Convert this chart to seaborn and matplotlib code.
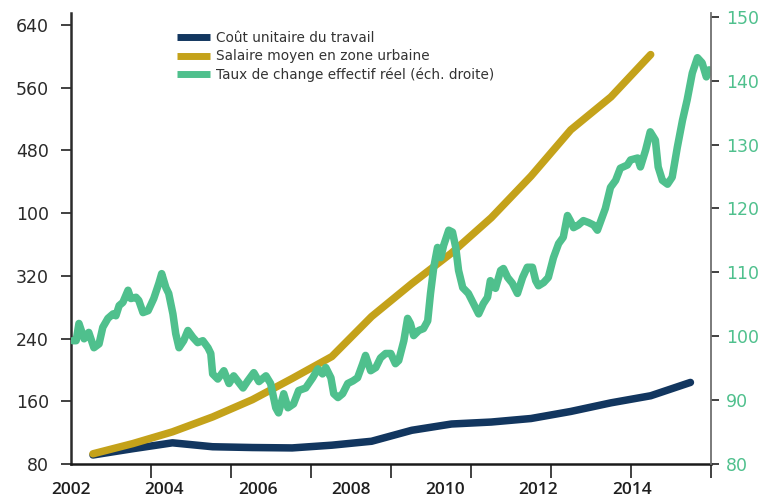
import numpy as np
import pandas as pd
import matplotlib
matplotlib.use("Agg")
import matplotlib.pyplot as plt
from matplotlib.lines import Line2D
import seaborn as sns

# ---------------- data ----------------
annual_x = [2002.47, 2003.32, 2004.17, 2005.03, 2005.88, 2006.73, 2007.58, 2008.43,
            2009.29, 2010.14, 2010.99, 2011.84, 2012.69, 2013.55, 2014.40, 2015.25]
cout_unitaire = [91.5, 99.5, 107, 102, 101, 100.5, 104, 109,
                 123, 131, 133.5, 138, 147, 158, 167, 184]
salaire_x = annual_x[:15]
salaire_moyen = [93, 106, 121, 140, 162, 189, 217, 268, 310, 349, 394, 447, 506, 548, 602]

tcer_x = [2002.04, 2002.11, 2002.17, 2002.28, 2002.38, 2002.49, 2002.60, 2002.68, 2002.79, 2002.90,
          2002.96, 2003.03, 2003.11, 2003.22, 2003.28, 2003.39, 2003.45, 2003.54, 2003.65, 2003.77,
          2003.88, 2003.94, 2004.03, 2004.09, 2004.18, 2004.24, 2004.31, 2004.41, 2004.50, 2004.61,
          2004.71, 2004.82, 2004.93, 2004.99, 2005.03, 2005.14, 2005.27, 2005.38, 2005.48, 2005.68,
          2005.78, 2005.91, 2006.02, 2006.17, 2006.27, 2006.38, 2006.44, 2006.55, 2006.64, 2006.76,
          2006.87, 2007.02, 2007.17, 2007.28, 2007.38, 2007.45, 2007.56, 2007.62, 2007.71, 2007.81,
          2007.92, 2008.03, 2008.13, 2008.24, 2008.30, 2008.41, 2008.52, 2008.62, 2008.73, 2008.84,
          2008.94, 2009.01, 2009.12, 2009.20, 2009.26, 2009.33, 2009.44, 2009.54, 2009.63, 2009.69,
          2009.76, 2009.84, 2009.91, 2009.97, 2010.08, 2010.16, 2010.23, 2010.29, 2010.38, 2010.50,
          2010.61, 2010.72, 2010.82, 2010.91, 2010.97, 2011.08, 2011.19, 2011.25, 2011.34, 2011.44,
          2011.55, 2011.66, 2011.76, 2011.87, 2011.94, 2012.00, 2012.11, 2012.21, 2012.32, 2012.43,
          2012.53, 2012.62, 2012.68, 2012.75, 2012.85, 2012.96, 2013.07, 2013.18, 2013.26, 2013.32,
          2013.43, 2013.54, 2013.65, 2013.75, 2013.90, 2013.97, 2014.12, 2014.18, 2014.29, 2014.39,
          2014.50, 2014.56, 2014.65, 2014.76, 2014.86, 2014.97, 2015.08, 2015.18, 2015.29, 2015.40,
          2015.50, 2015.59, 2015.65]
tcer = [99.3, 99.3, 102.0, 99.6, 100.6, 98.2, 98.8, 101.4, 102.8, 103.5,
        103.2, 104.8, 105.3, 107.2, 105.9, 106.1, 105.6, 103.7, 104.0, 105.9,
        108.3, 109.8, 107.6, 106.7, 103.5, 100.4, 98.2, 99.3, 100.9, 99.8,
        99.0, 99.3, 98.2, 97.3, 94.1, 93.3, 94.6, 92.6, 93.8, 91.9,
        93.0, 94.3, 92.9, 93.8, 92.6, 88.8, 88.0, 91.0, 88.8, 89.4,
        91.5, 91.9, 93.5, 94.9, 94.1, 95.1, 93.5, 91.0, 90.4, 91.0,
        92.6, 93.0, 93.5, 95.7, 97.0, 94.6, 95.1, 96.6, 97.3, 97.3,
        95.7, 96.2, 99.3, 102.8, 102.0, 100.1, 100.9, 101.2, 102.4, 106.7,
        110.8, 113.9, 112.3, 114.2, 116.6, 116.3, 113.9, 110.3, 107.6, 106.7,
        105.1, 103.5, 105.1, 106.1, 108.7, 107.5, 110.3, 110.6, 109.2, 108.3,
        106.7, 109.2, 110.8, 110.8, 108.7, 107.9, 108.4, 109.2, 112.3, 114.5,
        115.5, 118.9, 118.1, 117.0, 117.4, 118.1, 117.8, 117.4, 116.6, 117.8,
        120.0, 123.3, 124.4, 126.3, 126.8, 127.6, 127.9, 126.5, 129.1, 132.0,
        130.7, 126.5, 124.4, 123.8, 124.9, 129.6, 133.8, 137.0, 141.2, 143.6,
        142.8, 140.6, 141.7]

left_ticks = [80, 160, 240, 320, 400, 480, 560, 640]
left_tick_labels = ["80", "160", "240", "320", "100", "480", "560", "640"]
right_ticks = [80, 90, 100, 110, 120, 130, 140, 150]
year_ticks = [2002, 2004, 2006, 2008, 2010, 2012, 2014]
series_names = ["Coût unitaire du travail", "Salaire moyen en zone urbaine",
                "Taux de change effectif réel (éch. droite)"]

# ---------------- style ----------------
BLUE = "#12365f"
GOLD = "#c4a21a"
GREEN = "#4fc08d"
DARK = "#2b2b2b"

sns.set_theme(style="white")
plt.rcParams["font.family"] = ["DejaVu Sans"]

fig = plt.figure(figsize=(7.63, 5.0), dpi=100)
ax = fig.add_axes([71 / 763, 36 / 500, 640 / 763, 451 / 500])
ax2 = ax.twinx()

df_cout = pd.DataFrame({"x": annual_x, "y": cout_unitaire})
df_sal = pd.DataFrame({"x": salaire_x, "y": salaire_moyen})
df_tc = pd.DataFrame({"x": tcer_x, "y": tcer})

lw = 5.4
sns.lineplot(data=df_cout, x="x", y="y", ax=ax, color=BLUE, lw=lw,
             solid_capstyle="round", solid_joinstyle="round")
sns.lineplot(data=df_sal, x="x", y="y", ax=ax, color=GOLD, lw=lw,
             solid_capstyle="round", solid_joinstyle="round")
sns.lineplot(data=df_tc, x="x", y="y", ax=ax2, color=GREEN, lw=lw,
             solid_capstyle="round", solid_joinstyle="round")

xmax = 2015.69
ax.set_xlim(2002.0, xmax)
ax.set_ylim(80, 655)
ax2.set_ylim(80, 150.6)

for a in (ax, ax2):
    a.set_xlabel("")
    a.set_ylabel("")
    a.grid(False)
    a.spines["top"].set_visible(False)

ax.spines["right"].set_visible(False)
ax2.spines["left"].set_visible(False)
ax2.spines["bottom"].set_visible(False)
ax2.spines["right"].set_color("#6f6f6f")
ax2.spines["right"].set_linewidth(1.3)
ax.spines["left"].set_color(DARK)
ax.spines["left"].set_linewidth(1.8)
ax.spines["bottom"].set_color("#1a1a1a")
ax.spines["bottom"].set_linewidth(1.8)

# x ticks: labels on years, tick marks on an even grid
ax.set_xticks(year_ticks)
ax.set_xticklabels([str(y) for y in year_ticks], fontsize=12.5, fontweight="semibold",
                   color="#1f1f1f", family=["Open Sans", "DejaVu Sans"])
ax.set_xticks(np.linspace(2002.0, xmax, 9), minor=True)
ax.tick_params(axis="x", which="major", length=0, pad=13)
ax.tick_params(axis="x", which="minor", length=10, width=1.3, color="#333333", direction="out",
               bottom=True)

ax.set_yticks(left_ticks)
ax.set_yticklabels(left_tick_labels, fontsize=12.5, color="#2a2a2a")
ax.tick_params(axis="y", which="major", length=7, width=1.3, color="#333333", pad=9, left=True)

ax2.set_yticks(right_ticks)
ax2.set_yticklabels([str(v) for v in right_ticks], fontsize=12.5, color=GREEN)
ax2.tick_params(axis="y", which="major", length=6, width=1.3, color="#333333", pad=5, right=True)

handles = [Line2D([0], [0], color=c, lw=5, solid_capstyle="butt") for c in (BLUE, GOLD, GREEN)]
leg = fig.legend(handles, series_names, loc="upper left", bbox_to_anchor=(177 / 763, 1 - 31 / 500),
                 frameon=False, fontsize=9.8, handlelength=2.4, handletextpad=0.45,
                 labelspacing=0.32, borderpad=0, borderaxespad=0)
for t in leg.get_texts():
    t.set_color("#333333")

fig.savefig("out.png", dpi=100)
